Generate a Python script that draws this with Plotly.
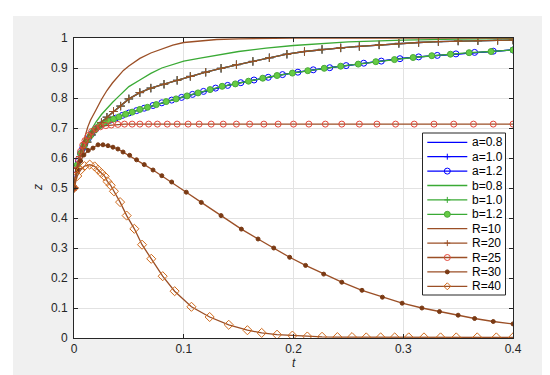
import plotly.graph_objects as go

# ---------------- data ----------------
t_main = [0, 0.002, 0.004, 0.006, 0.008, 0.01, 0.013, 0.016, 0.02, 0.024, 0.028, 0.033, 0.038, 0.044,
          0.05, 0.057, 0.064, 0.072, 0.08, 0.089, 0.098, 0.108, 0.118, 0.129, 0.14, 0.152, 0.164, 0.177,
          0.19, 0.204, 0.218, 0.233, 0.248, 0.264, 0.28, 0.297, 0.314, 0.331, 0.348, 0.365, 0.382, 0.4]
z_main = [0.5, 0.56, 0.59, 0.615, 0.633, 0.648, 0.665, 0.68, 0.697, 0.71, 0.718, 0.726, 0.733, 0.742,
          0.75, 0.758, 0.766, 0.775, 0.784, 0.793, 0.802, 0.812, 0.822, 0.833, 0.842, 0.851, 0.86, 0.869,
          0.878, 0.886, 0.894, 0.901, 0.908, 0.916, 0.923, 0.931, 0.937, 0.942, 0.947, 0.952, 0.956, 0.96]

t_b12 = [0, 0.003, 0.006, 0.009, 0.012, 0.015, 0.019, 0.023, 0.027, 0.031, 0.036, 0.041, 0.047, 0.053,
         0.06, 0.067, 0.075, 0.084, 0.093, 0.103, 0.113, 0.124, 0.135, 0.147, 0.159, 0.172, 0.185, 0.199,
         0.213, 0.228, 0.243, 0.259, 0.275, 0.292, 0.309, 0.326, 0.343, 0.36, 0.38, 0.4]
z_b12 = [0.5, 0.577, 0.615, 0.641, 0.66, 0.675, 0.693, 0.707, 0.716, 0.723, 0.73, 0.737, 0.746, 0.753,
         0.762, 0.769, 0.778, 0.788, 0.797, 0.807, 0.817, 0.828, 0.839, 0.847, 0.856, 0.866, 0.875, 0.883,
         0.891, 0.899, 0.906, 0.913, 0.921, 0.928, 0.935, 0.941, 0.946, 0.951, 0.955, 0.96]

t_top = [0, 0.0025, 0.005, 0.0075, 0.01, 0.0125, 0.015, 0.0175, 0.02, 0.025, 0.03, 0.035, 0.04, 0.045,
         0.05, 0.06, 0.07, 0.08, 0.09, 0.1, 0.115, 0.13, 0.15, 0.175, 0.2, 0.25, 0.3, 0.35, 0.4]
z_R10 = [0.5, 0.56, 0.605, 0.64, 0.675, 0.703, 0.726, 0.742, 0.76, 0.795, 0.825, 0.85, 0.872, 0.892,
         0.907, 0.932, 0.95, 0.964, 0.976, 0.985, 0.991, 0.995, 0.997, 0.999, 1.0, 1.0, 1.0, 1.0, 1.0]
z_b08 = [0.5, 0.555, 0.595, 0.625, 0.65, 0.672, 0.69, 0.706, 0.72, 0.745, 0.766, 0.785, 0.803, 0.82,
         0.838, 0.86, 0.882, 0.9, 0.912, 0.923, 0.933, 0.943, 0.955, 0.966, 0.975, 0.987, 0.993, 0.996, 0.998]

t_R20 = [0, 0.003, 0.006, 0.009, 0.012, 0.016, 0.02, 0.025, 0.03, 0.036, 0.0425, 0.05, 0.06, 0.07,
         0.082, 0.094, 0.106, 0.12, 0.134, 0.148, 0.163, 0.178, 0.194, 0.21, 0.226, 0.243, 0.26, 0.278,
         0.296, 0.314, 0.332, 0.35, 0.368, 0.386, 0.4]
z_R20 = [0.5, 0.565, 0.605, 0.632, 0.653, 0.677, 0.697, 0.718, 0.736, 0.755, 0.773, 0.797, 0.818, 0.833,
         0.846, 0.859, 0.872, 0.886, 0.899, 0.911, 0.922, 0.934, 0.946, 0.955, 0.962, 0.967, 0.972, 0.977,
         0.982, 0.985, 0.988, 0.99, 0.991, 0.992, 0.993]

t_R25 = [0, 0.002, 0.004, 0.006, 0.008, 0.01, 0.013, 0.016, 0.02, 0.024, 0.029, 0.034, 0.04, 0.046,
         0.053, 0.06, 0.068, 0.076, 0.085, 0.094, 0.104, 0.114, 0.125, 0.136, 0.148, 0.16, 0.173, 0.186,
         0.2, 0.214, 0.229, 0.244, 0.26, 0.276, 0.293, 0.31, 0.328, 0.346, 0.364, 0.382, 0.4]
z_R25 = [0.5, 0.56, 0.595, 0.622, 0.643, 0.658, 0.675, 0.688, 0.698, 0.704, 0.708, 0.71, 0.712, 0.713,
         0.713, 0.713, 0.713, 0.713, 0.713, 0.713, 0.713, 0.713, 0.713, 0.713, 0.713, 0.713, 0.713, 0.713,
         0.713, 0.713, 0.713, 0.713, 0.713, 0.713, 0.713, 0.713, 0.713, 0.713, 0.713, 0.713, 0.713]

t_R30 = [0, 0.003, 0.006, 0.009, 0.013, 0.0173, 0.0219, 0.0264, 0.031, 0.0355, 0.04, 0.0447, 0.0507,
         0.057, 0.064, 0.072, 0.08, 0.089, 0.1023, 0.116, 0.134, 0.1525, 0.1677, 0.182, 0.1965, 0.211,
         0.2275, 0.244, 0.2624, 0.281, 0.299, 0.317, 0.333, 0.35, 0.365, 0.382, 0.4]
z_R30 = [0.5, 0.56, 0.59, 0.61, 0.625, 0.633, 0.644, 0.644, 0.641, 0.636, 0.63, 0.62, 0.609,
         0.594, 0.578, 0.56, 0.541, 0.52, 0.486, 0.452, 0.408, 0.363, 0.33, 0.3, 0.269, 0.242,
         0.213, 0.186, 0.159, 0.136, 0.116, 0.1, 0.088, 0.076, 0.065, 0.055, 0.047]

t_R40 = [0, 0.003, 0.006, 0.0095, 0.0143, 0.0188, 0.0219, 0.0249, 0.028, 0.0304, 0.0334, 0.0364, 0.042,
         0.048, 0.055, 0.062, 0.0704, 0.0808, 0.0917, 0.107, 0.1236, 0.141, 0.158, 0.171, 0.185, 0.199,
         0.2126, 0.226, 0.24, 0.2533, 0.2663, 0.2794, 0.2922, 0.305, 0.3189, 0.334, 0.3483, 0.3674, 0.3848, 0.4]
z_R40 = [0.5, 0.54, 0.56, 0.573, 0.578, 0.572, 0.561, 0.55, 0.539, 0.522, 0.509, 0.489, 0.453,
         0.408, 0.364, 0.311, 0.264, 0.206, 0.156, 0.104, 0.07, 0.044, 0.026, 0.017, 0.011, 0.008,
         0.005, 0.004, 0.003, 0.003, 0.002, 0.002, 0.002, 0.002, 0.002, 0.002, 0.002, 0.002, 0.002, 0.002]

x_ticks = [0, 0.1, 0.2, 0.3, 0.4]
x_ticklabels = ["0", "0.1", "0.2", "0.3", "0.4"]
y_ticks = [0, 0.1, 0.2, 0.3, 0.4, 0.5, 0.6, 0.7, 0.8, 0.9, 1.0]
y_ticklabels = ["0", "0.1", "0.2", "0.3", "0.4", "0.5", "0.6", "0.7", "0.8", "0.9", "1"]

# ---------------- styles ----------------
BLUE = "#0000ff"
GREEN = "#3aaa35"
GREEN_M = "#66cc44"
BROWN = "#9b4f26"
RED_O = "#e2483a"
DOT = "#7a3a14"
ORANGE = "#cf6a1c"
FONT = "Liberation Sans, Arial, sans-serif"

# (name, t, z, line colour, marker kind, marker colour, marker size)
series = [
    ("a=0.8", t_main, z_main, BLUE, None, None, 0),
    ("a=1.0", t_R20, z_R20, BLUE, "plus", BLUE, 6),
    ("a=1.2", t_main, z_main, BLUE, "circle-open", BLUE, 6),
    ("b=0.8", t_top, z_b08, GREEN, None, None, 0),
    ("b=1.0", t_R20, z_R20, GREEN, "plus", GREEN, 6),
    ("b=1.2", t_b12, z_b12, GREEN, "circle", GREEN_M, 6),
    ("R=10", t_top, z_R10, BROWN, None, None, 0),
    ("R=20", t_R20, z_R20, BROWN, "plus", BROWN, 6),
    ("R=25", t_R25, z_R25, BROWN, "circle-open", RED_O, 6),
    ("R=30", t_R30, z_R30, BROWN, "dot", DOT, 4),
    ("R=40", t_R40, z_R40, BROWN, "diamond-open", ORANGE, 7),
]
plotly_symbol = {"plus": "cross-thin", "circle-open": "circle-open", "circle": "circle",
                 "dot": "circle", "diamond-open": "diamond-open"}

fig = go.Figure()
for name, t, z, col, kind, mcol, msz in series:
    if kind is None:
        fig.add_trace(go.Scatter(x=t, y=z, name=name, mode="lines",
                                 line=dict(color=col, width=1.3)))
    else:
        fig.add_trace(go.Scatter(x=t, y=z, name=name, mode="lines+markers",
                                 line=dict(color=col, width=1.3),
                                 marker=dict(symbol=plotly_symbol[kind], size=msz, color=mcol,
                                             line=dict(width=1, color=mcol if kind != "circle" else "#4aa83a"))))

# ---------------- layout geometry (pixels of the 550x375 canvas) ----------------
L, R, T, B = 66, 505, 30, 330
def xp(px):
    return (px - L) / (R - L)
def yp(py):
    return (B - py) / (B - T)

shapes = [
    dict(type="rect", xref="paper", yref="paper", x0=xp(5), x1=xp(543), y0=yp(370), y1=yp(8),
         fillcolor="#f0f0f0", line=dict(width=0), layer="below"),
    dict(type="rect", xref="paper", yref="paper", x0=0, x1=1, y0=0, y1=1,
         fillcolor="white", line=dict(width=0), layer="below"),
    # legend box
    dict(type="rect", xref="paper", yref="paper", x0=xp(414.5), x1=xp(497.5), y0=yp(287), y1=yp(125),
         fillcolor="white", line=dict(width=1, color="#262626"), layer="above"),
]
annotations = []
row0, drow = 134.3, 14.4
mx = 439.3
for i, (name, t, z, col, kind, mcol, msz) in enumerate(series):
    ry = row0 + i * drow
    shapes.append(dict(type="line", xref="paper", yref="paper", x0=xp(419.3), x1=xp(459.3),
                       y0=yp(ry), y1=yp(ry), line=dict(color=col, width=1.3), layer="above"))
    pix = dict(xref="paper", yref="paper", xsizemode="pixel", ysizemode="pixel",
               xanchor=xp(mx), yanchor=yp(ry), layer="above")
    if kind == "plus":
        shapes.append(dict(type="line", x0=-3, x1=3, y0=0, y1=0, line=dict(color=mcol, width=1), **pix))
        shapes.append(dict(type="line", x0=0, x1=0, y0=-3, y1=3, line=dict(color=mcol, width=1), **pix))
    elif kind == "circle-open":
        shapes.append(dict(type="circle", x0=-3, x1=3, y0=-3, y1=3, fillcolor="rgba(0,0,0,0)",
                           line=dict(color=mcol, width=1), **pix))
    elif kind == "circle":
        shapes.append(dict(type="circle", x0=-3, x1=3, y0=-3, y1=3, fillcolor=mcol,
                           line=dict(color="#4aa83a", width=1), **pix))
    elif kind == "dot":
        shapes.append(dict(type="circle", x0=-2, x1=2, y0=-2, y1=2, fillcolor=mcol,
                           line=dict(color=mcol, width=1), **pix))
    elif kind == "diamond-open":
        shapes.append(dict(type="path", path="M 0,3.5 L 3.5,0 L 0,-3.5 L -3.5,0 Z",
                           fillcolor="rgba(0,0,0,0)", line=dict(color=mcol, width=1), **pix))
    annotations.append(dict(x=xp(462.3), y=yp(ry), xref="paper", yref="paper", text=name,
                            showarrow=False, xanchor="left", yanchor="middle",
                            font=dict(family=FONT, size=12, color="#000000")))

annotations.append(dict(x=0.5, y=yp(355), xref="paper", yref="paper", text="<i>t</i>",
                        showarrow=False, xanchor="center", yanchor="middle",
                        font=dict(family=FONT, size=12, color="#262626")))
annotations.append(dict(x=xp(30), y=0.5, xref="paper", yref="paper", text="<i>z</i>",
                        showarrow=False, xanchor="center", yanchor="middle", textangle=-90,
                        font=dict(family=FONT, size=12, color="#262626")))

fig.update_layout(
    width=550, height=375,
    margin=dict(l=L, r=550 - R, t=T, b=375 - B),
    paper_bgcolor="white", plot_bgcolor="white",
    font=dict(family=FONT, size=12, color="#262626"),
    showlegend=False,
    shapes=shapes,
    annotations=annotations,
)

fig.update_xaxes(range=[0, 0.4], tickvals=x_ticks, ticktext=x_ticklabels,
                 showgrid=True, gridcolor="#e2e2e2", gridwidth=1, zeroline=False,
                 showline=True, linecolor="#262626", linewidth=1, mirror="ticks",
                 ticks="inside", ticklen=4, tickcolor="#262626",
                 tickfont=dict(size=12, color="#262626"))
fig.update_yaxes(range=[0, 1], tickvals=y_ticks, ticktext=y_ticklabels,
                 showgrid=True, gridcolor="#e2e2e2", gridwidth=1, zeroline=False,
                 showline=True, linecolor="#262626", linewidth=1, mirror="ticks",
                 ticks="inside", ticklen=4, tickcolor="#262626",
                 tickfont=dict(size=12, color="#262626"), ticklabelstandoff=3)

fig.write_html("out.html")
